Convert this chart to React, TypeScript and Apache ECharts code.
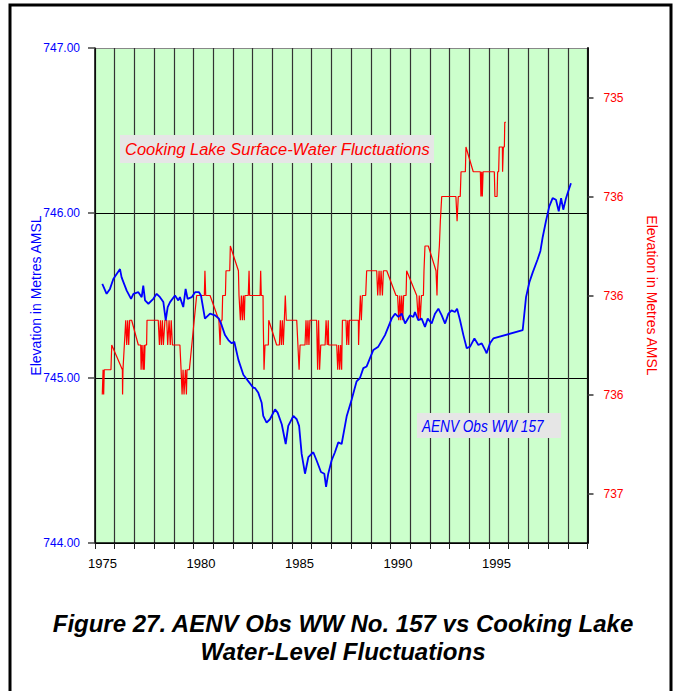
import React, { useEffect, useRef } from "react";
import * as echarts from "echarts";

const xLabelYears = [1975, 1980, 1985, 1990, 1995];
const leftTickValues = [744, 745, 746, 747];
const rightTickValues = [735, 735.5, 736, 736.5, 737];
const rightTickLabels = ["735", "736", "736", "736", "737"];

const wellYears = [
  1975.37, 1975.59, 1975.76, 1975.93, 1976.27, 1976.35, 1976.61, 1976.83, 1976.95, 1977.2,
  1977.37, 1977.45, 1977.54, 1977.71, 1977.96, 1978.13, 1978.3, 1978.47, 1978.59, 1978.69,
  1978.81, 1979.06, 1979.23, 1979.31, 1979.48, 1979.6, 1979.7, 1979.91, 1980.08, 1980.28,
  1980.38, 1980.58, 1980.84, 1981.09, 1981.29, 1981.43, 1981.6, 1981.77, 1981.94, 1982.07,
  1982.28, 1982.53, 1983.04, 1983.12, 1983.29, 1983.46, 1983.54, 1983.71, 1983.88, 1984.14,
  1984.27, 1984.48, 1984.68, 1984.81, 1985.07, 1985.24, 1985.36, 1985.49, 1985.66, 1985.83,
  1986.08, 1986.25, 1986.47, 1986.64, 1986.73, 1986.84, 1987.01, 1987.18, 1987.35, 1987.52,
  1987.78, 1988.03, 1988.28, 1988.45, 1988.62, 1988.79, 1988.96, 1989.13, 1989.38, 1989.72,
  1990.06, 1990.23, 1990.4, 1990.57, 1990.74, 1990.99, 1991.16, 1991.24, 1991.41, 1991.58,
  1991.75, 1991.89, 1992.09, 1992.26, 1992.43, 1992.6, 1992.77, 1992.94, 1993.1, 1993.27,
  1993.38, 1993.53, 1993.7, 1993.87, 1994.04, 1994.26, 1994.46, 1994.63, 1994.8, 1994.88,
  1995.05, 1995.22, 1996.71, 1996.88, 1997.05, 1997.22, 1997.47, 1997.61, 1997.72, 1997.89,
  1998.06, 1998.23, 1998.4, 1998.54, 1998.66, 1998.77, 1998.91, 1998.99, 1999.16,
];
const wellLevels = [
  745.57, 745.51, 745.54, 745.6, 745.66, 745.61, 745.53, 745.48, 745.51, 745.52,
  745.49, 745.56, 745.47, 745.45, 745.48, 745.51, 745.49, 745.46, 745.35, 745.43,
  745.46, 745.5, 745.47, 745.49, 745.43, 745.54, 745.48, 745.49, 745.52, 745.52,
  745.5, 745.36, 745.39, 745.38, 745.36, 745.32, 745.26, 745.23, 745.21, 745.22,
  745.11, 745.02, 744.94, 744.94, 744.91, 744.85, 744.77, 744.73, 744.75, 744.81,
  744.79, 744.72, 744.6, 744.71, 744.77, 744.75, 744.71, 744.54, 744.42, 744.52,
  744.55, 744.5, 744.43, 744.42, 744.34, 744.42, 744.5, 744.55, 744.61, 744.6,
  744.77, 744.87, 744.98, 745.0, 745.06, 745.07, 745.12, 745.17, 745.19, 745.26,
  745.36, 745.39, 745.37, 745.39, 745.33, 745.38, 745.37, 745.4, 745.35, 745.36,
  745.31, 745.36, 745.33, 745.39, 745.42, 745.38, 745.33, 745.39, 745.41, 745.4,
  745.42, 745.35, 745.26, 745.18, 745.19, 745.24, 745.2, 745.21, 745.17, 745.15,
  745.21, 745.24, 745.29, 745.49, 745.58, 745.64, 745.72, 745.77, 745.85, 745.95,
  746.04, 746.09, 746.08, 746.01, 746.09, 746.02, 746.09, 746.12, 746.18,
];

const lakeYears = [
  1975.37, 1975.41, 1975.44, 1975.47, 1975.81, 1975.85, 1976.39, 1976.4, 1976.42, 1976.49,
  1976.56, 1976.61, 1976.66, 1976.71, 1976.76, 1976.86, 1977.2, 1977.32, 1977.34, 1977.39,
  1977.44, 1977.49, 1977.5, 1977.54, 1977.62, 1977.64, 1978.21, 1978.27, 1978.32, 1978.37,
  1978.42, 1978.47, 1978.55, 1978.64, 1978.69, 1978.76, 1978.82, 1978.87, 1978.93, 1979.31,
  1979.37, 1979.42, 1979.47, 1979.52, 1979.59, 1979.64, 1979.67, 1979.79, 1980.16, 1980.55,
  1980.58, 1980.62, 1980.84, 1981.29, 1981.35, 1981.4, 1981.45, 1981.48, 1981.62, 1981.65,
  1981.84, 1981.87, 1982.28, 1982.31, 1982.38, 1982.43, 1982.48, 1982.53, 1982.58, 1982.61,
  1982.78, 1982.82, 1982.85, 1983.38, 1983.41, 1983.44, 1983.53, 1983.54, 1983.58, 1983.63,
  1983.8, 1983.82, 1984.22, 1984.36, 1984.41, 1984.46, 1984.51, 1984.56, 1984.61, 1984.66,
  1984.71, 1984.76, 1985.24, 1985.36, 1985.41, 1985.66, 1985.71, 1985.76, 1985.81, 1985.86,
  1985.91, 1986.25, 1986.3, 1986.35, 1986.4, 1986.46, 1986.51, 1986.68, 1986.73, 1986.79,
  1986.84, 1986.86, 1987.27, 1987.32, 1987.37, 1987.42, 1987.47, 1987.52, 1987.56, 1987.74,
  1987.78, 1987.83, 1987.88, 1987.91, 1988.37, 1988.38, 1988.42, 1988.47, 1988.52, 1988.57,
  1988.62, 1988.74, 1988.79, 1989.3, 1989.35, 1989.42, 1989.47, 1989.52, 1989.59, 1989.64,
  1989.81, 1990.28, 1990.36, 1990.42, 1990.47, 1990.52, 1990.57, 1990.62, 1990.67, 1990.79,
  1990.82, 1991.33, 1991.41, 1991.46, 1991.51, 1991.57, 1991.67, 1991.7, 1991.75, 1991.92,
  1992.31, 1992.36, 1992.39, 1992.48, 1992.53, 1992.6, 1992.65, 1993.32, 1993.38, 1993.44,
  1993.54, 1993.58, 1993.8, 1993.83, 1994.2, 1994.56, 1994.59, 1994.63, 1994.66, 1994.7,
  1995.27, 1995.3, 1995.41, 1995.44, 1995.49, 1995.52, 1995.68, 1995.69, 1995.73, 1995.78,
  1995.8, 1995.86,
];
const lakeLevels = [
  736.5, 736.375, 736.5, 736.375, 736.375, 736.25, 736.375, 736.5, 736.375, 736.25,
  736.125, 736.25, 736.125, 736.25, 736.125, 736.125, 736.25, 736.25, 736.375, 736.25,
  736.375, 736.25, 736.375, 736.25, 736.25, 736.125, 736.125, 736.25, 736.125, 736.25,
  736.125, 736.25, 736.125, 736.125, 736.25, 736.125, 736.25, 736.125, 736.25, 736.25,
  736.375, 736.5, 736.375, 736.5, 736.375, 736.5, 736.375, 736.375, 736.0, 736.0,
  735.875, 736.0, 736.0, 736.125, 736.25, 736.125, 736.125, 736.0, 736.0, 735.875,
  735.875, 735.75, 735.875, 736.0, 736.125, 736.0, 736.125, 736.0, 736.125, 736.0,
  736.0, 735.875, 736.0, 736.0, 735.875, 736.0, 736.0, 736.125, 736.375, 736.25,
  736.25, 736.125, 736.25, 736.25, 736.125, 736.25, 736.125, 736.25, 736.125, 736.0,
  736.125, 736.125, 736.125, 736.375, 736.25, 736.25, 736.125, 736.25, 736.125, 736.25,
  736.125, 736.125, 736.375, 736.125, 736.375, 736.25, 736.25, 736.25, 736.125, 736.25,
  736.125, 736.25, 736.25, 736.375, 736.25, 736.375, 736.25, 736.375, 736.125, 736.125,
  736.25, 736.125, 736.25, 736.125, 736.125, 736.25, 736.125, 736.0, 736.125, 736.0,
  736.0, 736.0, 735.875, 735.875, 736.0, 735.875, 736.0, 735.875, 736.0, 735.875,
  735.875, 736.0, 736.0, 736.125, 736.0, 736.125, 736.0, 736.125, 736.0, 736.0,
  735.875, 736.0, 736.125, 736.0, 736.125, 736.0, 736.0, 735.875, 735.75, 735.75,
  735.875, 736.0, 735.875, 735.75, 735.625, 735.5, 735.5, 735.5, 735.625, 735.5,
  735.5, 735.375, 735.375, 735.25, 735.375, 735.375, 735.5, 735.375, 735.5, 735.375,
  735.375, 735.5, 735.5, 735.375, 735.375, 735.25, 735.25, 735.375, 735.25, 735.25,
  735.125, 735.125,
];

const FONT = "'Liberation Sans', Arial, Helvetica, sans-serif";

export default function App() {
  const ref = useRef<HTMLDivElement>(null);

  useEffect(() => {
    if (!ref.current) return;
    const chart = echarts.init(ref.current, null, { renderer: "svg" });
    const wellData = wellYears.map((y, i) => [y, wellLevels[i]]);
    const lakeData = lakeYears.map((y, i) => [y, lakeLevels[i]]);

    chart.setOption({
      animation: false,
      backgroundColor: "#ffffff",
      grid: {
        left: 95,
        right: 90.5,
        top: 48,
        bottom: 148,
        show: true,
        backgroundColor: "#ccffcc",
        borderWidth: 0,
      },
      xAxis: {
        type: "value",
        min: 1975,
        max: 2000,
        interval: 1,
        axisLine: { show: true, onZero: false, lineStyle: { color: "#000", width: 1.5 } },
        axisTick: { show: true, length: 6, lineStyle: { color: "#222", width: 1 } },
        axisLabel: {
          color: "#000",
          fontSize: 13,
          fontFamily: FONT,
          margin: 14,
          padding: [0, 0, 0, 15],
          formatter: (v: number) => (xLabelYears.indexOf(v) >= 0 ? String(v) : ""),
        },
        splitLine: { show: true, lineStyle: { color: "#333", width: 1.2 } },
      },
      yAxis: [
        {
          type: "value",
          min: 744,
          max: 747,
          interval: 1,
          position: "left",
          name: "Elevation in Metres AMSL",
          nameLocation: "middle",
          nameRotate: 90,
          nameGap: 52,
          nameMoveOverlap: false,
          nameTextStyle: { color: "#0000ff", fontSize: 14, fontFamily: FONT },
          axisLine: { show: true, lineStyle: { color: "#000", width: 1.5 } },
          axisTick: { show: true, length: 7, lineStyle: { color: "#444", width: 1.5 } },
          axisLabel: {
            color: "#0000ff",
            fontSize: 12,
            fontFamily: FONT,
            margin: 15,
            formatter: (v: number) => (leftTickValues.indexOf(v) >= 0 ? v.toFixed(2) : ""),
          },
          splitLine: {
            show: true,
            lineStyle: { color: ["#000", "#000", "#000", "#888"], width: 1 },
          },
        },
        {
          type: "value",
          min: 734.75,
          max: 737.25,
          inverse: true,
          position: "right",
          name: "Elevation in Metres AMSL",
          nameLocation: "middle",
          nameRotate: -90,
          nameGap: 57,
          nameMoveOverlap: false,
          nameTextStyle: { color: "#ff0000", fontSize: 14, fontFamily: FONT },
          axisLine: { show: true, lineStyle: { color: "#111", width: 2 } },
          axisTick: {
            show: true,
            length: 6,
            customValues: rightTickValues,
            lineStyle: { color: "#333", width: 1.5 },
          },
          axisLabel: {
            color: "#ff0000",
            fontSize: 12,
            fontFamily: FONT,
            margin: 16,
            customValues: rightTickValues,
            formatter: (v: number) => {
              const i = rightTickValues.indexOf(v);
              return i >= 0 ? rightTickLabels[i] : "";
            },
          },
          splitLine: { show: false },
        },
      ],
      series: [
        {
          type: "line",
          name: "Cooking Lake",
          yAxisIndex: 1,
          data: lakeData,
          showSymbol: false,
          symbol: "none",
          lineStyle: { color: "#ff0000", width: 1.2 },
          z: 3,
        },
        {
          type: "line",
          name: "AENV Obs WW 157",
          yAxisIndex: 0,
          data: wellData,
          showSymbol: false,
          symbol: "none",
          lineStyle: { color: "#0000ff", width: 1.8 },
          z: 4,
        },
      ],
      graphic: [
        {
          type: "rect",
          shape: { x: 10, y: 5, width: 661, height: 700 },
          style: { fill: "none", stroke: "#000", lineWidth: 3 },
          silent: true,
        },
        {
          type: "rect",
          shape: { x: 120, y: 135, width: 314, height: 28 },
          style: { fill: "#e6e6e6" },
          z: 10,
        },
        {
          type: "text",
          x: 125,
          y: 149,
          scaleX: 0.97,
          style: {
            text: "Cooking Lake Surface-Water Fluctuations",
            fill: "#ff0000",
            fontSize: 17,
            fontStyle: "italic",
            fontFamily: FONT,
            align: "left",
            verticalAlign: "middle",
          },
          z: 11,
        },
        {
          type: "rect",
          shape: { x: 417, y: 413, width: 144, height: 25 },
          style: { fill: "#e6e6e6" },
          z: 10,
        },
        {
          type: "text",
          x: 422,
          y: 426,
          scaleX: 0.8,
          style: {
            text: "AENV Obs WW 157",
            fill: "#0000ff",
            fontSize: 17,
            fontStyle: "italic",
            fontFamily: FONT,
            align: "left",
            verticalAlign: "middle",
          },
          z: 11,
        },
        {
          type: "text",
          x: 343,
          y: 623,
          style: {
            text: "Figure 27. AENV Obs WW No. 157 vs Cooking Lake",
            fill: "#000",
            fontSize: 24,
            fontStyle: "italic",
            fontWeight: "bold",
            fontFamily: FONT,
            align: "center",
            verticalAlign: "middle",
          },
        },
        {
          type: "text",
          x: 343,
          y: 651,
          style: {
            text: "Water-Level Fluctuations",
            fill: "#000",
            fontSize: 24,
            fontStyle: "italic",
            fontWeight: "bold",
            fontFamily: FONT,
            align: "center",
            verticalAlign: "middle",
          },
        },
      ],
    });

    return () => {
      chart.dispose();
    };
  }, []);

  return (
    <div
      ref={ref}
      style={{ position: "absolute", left: 0, top: 0, width: 678, height: 691, background: "#fff" }}
    />
  );
}
